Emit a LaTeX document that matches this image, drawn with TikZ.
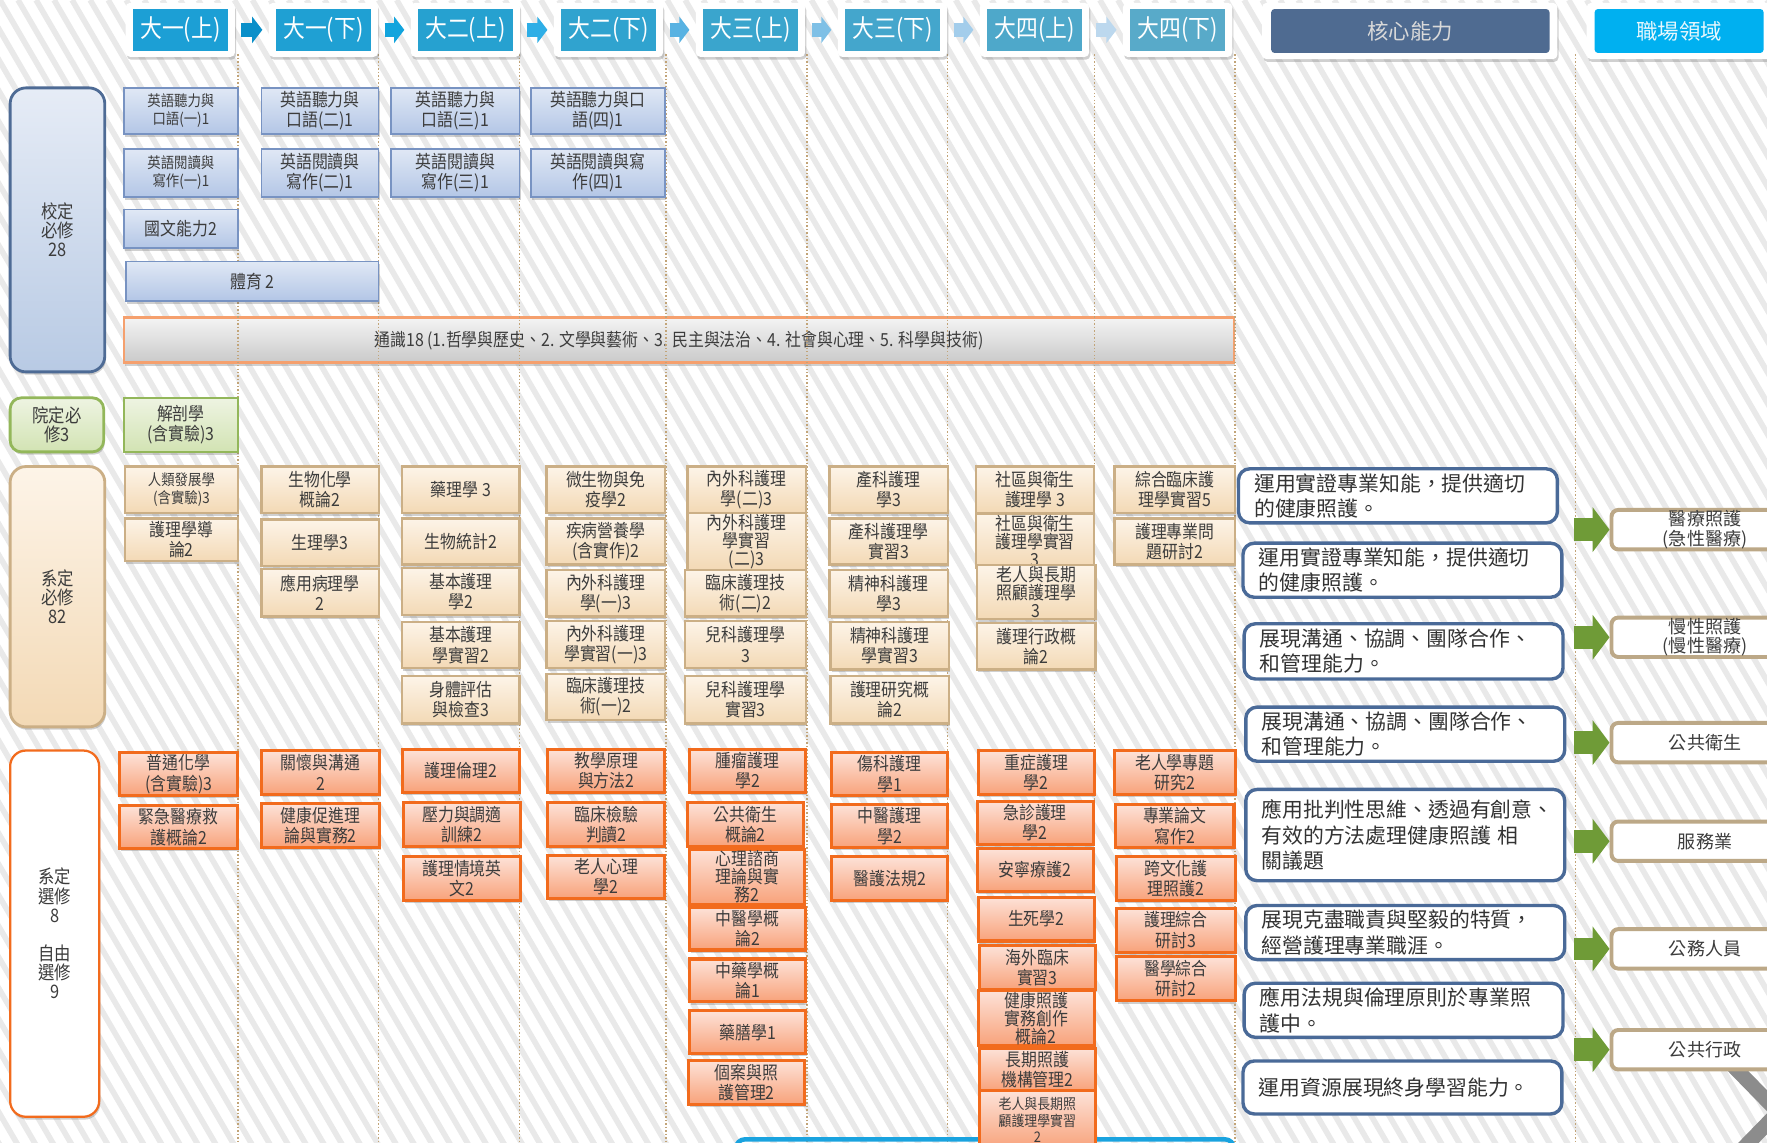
\documentclass[tikz,border=0pt]{standalone}
\usepackage{fontspec}
\setmainfont{Noto Sans CJK TC}[FakeStretch=0.88]
\newfontfamily\wfont{Noto Sans CJK TC}
\usetikzlibrary{shadows,arrows.meta,calc}
\definecolor{txt}{HTML}{3C3C3C}
\definecolor{bluT}{HTML}{E0E8F5}
\definecolor{bluB}{HTML}{B3C6E6}
\definecolor{bluD}{HTML}{7893C2}
\definecolor{lblT}{HTML}{E6ECF6}
\definecolor{lblB}{HTML}{B8CAE4}
\definecolor{lblD}{HTML}{4E6B95}
\definecolor{grnT}{HTML}{EEF4E2}
\definecolor{grnB}{HTML}{D2E3B3}
\definecolor{grnD}{HTML}{93B75A}
\definecolor{pchT}{HTML}{FDF4E8}
\definecolor{pchB}{HTML}{F3D9B5}
\definecolor{pchD}{HTML}{CBAF86}
\definecolor{orgT}{HTML}{FDE2D8}
\definecolor{orgB}{HTML}{F8A27A}
\definecolor{orgD}{HTML}{F26B1D}
\definecolor{gryT}{HTML}{F4F4F4}
\definecolor{gryB}{HTML}{C9C9C9}
\definecolor{gryD}{HTML}{F5A06E}
\definecolor{coreD}{HTML}{4A6A98}
\definecolor{carD}{HTML}{BCA887}
\definecolor{arrG}{HTML}{6F9B37}
\definecolor{dotC}{HTML}{C2A478}
\definecolor{stripeC}{HTML}{E9E9E9}
\definecolor{chevC}{HTML}{8C8C8C}
\definecolor{barC}{HTML}{1AA3DF}
\definecolor{hA}{HTML}{1C9FD5}
\definecolor{hB}{HTML}{1FA0D3}
\definecolor{hC}{HTML}{26A1D0}
\definecolor{hD}{HTML}{30A3CF}
\definecolor{hE}{HTML}{3AA5CD}
\definecolor{hF}{HTML}{44A6CC}
\definecolor{hG}{HTML}{4EA8CA}
\definecolor{hH}{HTML}{58AAC9}
\definecolor{aA}{HTML}{0A8FC9}
\definecolor{aB}{HTML}{12A4DD}
\definecolor{aC}{HTML}{2EAEE6}
\definecolor{aD}{HTML}{58B2E2}
\definecolor{aE}{HTML}{7FC0E6}
\definecolor{aF}{HTML}{A3CDEB}
\definecolor{aG}{HTML}{BCD8EE}
\definecolor{coreH}{HTML}{4F6B91}
\definecolor{carH}{HTML}{00B0F0}
\newcommand{\fs}[2]{\fontsize{#1}{#2}\selectfont}
\newcommand{\crs}[7]{\node[#2, minimum width={(#5)-(#3)}, minimum height={(#6)-(#4)}] (#1) at ({((#3)+(#5))/2},{((#4)+(#6))/2}) {#7};}
\newcommand{\hdr}[4]{\node[hdrout] (#1o) at (#2,26.5) {};\node[hdrin, fill=#3] (#1) at (#2,26.5) {#4};}
\newcommand{\car}[3]{\node[carbox] (#1) at (1513,#2) {#3};}
\newcommand{\core}[4]{\node[corebox, minimum height=#3] (#1) at #2 {#4};}
\tikzset{
 csh/.style={drop shadow={shadow xshift=1pt,shadow yshift=-2.5pt,opacity=0.3,fill=black!60}},
 hdrout/.style={fill=white, rounded corners=4pt, minimum width=97pt, minimum height=48pt, inner sep=0pt, csh},
 hdrin/.style={minimum width=84pt, minimum height=37pt, inner sep=0pt, text=white, font=\fs{22}{24}},
 harr/.style={line width=12pt, -{Triangle[width=23pt,length=9pt]}, shorten <=5.5pt, shorten >=5.5pt},
 lcat/.style={rounded corners=14pt, line width=2.5pt, align=center, text=txt, font=\fs{16.5}{17}, inner sep=0pt, csh},
 crsb/.style={draw=bluD, line width=1.5pt, top color=bluT, bottom color=bluB, align=center, text=txt, inner sep=1pt, font=\fs{16}{18}, csh},
 crsg/.style={draw=grnD, line width=2pt, top color=grnT, bottom color=grnB, align=center, text=txt, inner sep=1pt, font=\fs{16}{18}, csh},
 crsp/.style={draw=pchD, line width=2pt, top color=pchT, bottom color=pchB, align=center, text=txt, inner sep=1pt, font=\fs{16}{18}, csh},
 crso/.style={draw=orgD, line width=2.7pt, top color=orgT, bottom color=orgB, align=center, text=txt, inner sep=1pt, font=\fs{16}{18}, csh},
 sm/.style={font=\fs{13.5}{16}},
 tri/.style={font=\fs{16}{16}},
 corebox/.style={fill=white, draw=coreD, line width=3pt, rounded corners=10pt, text width=255pt, inner xsep=14pt, inner ysep=0pt, align=left, font=\wfont\fs{18.5}{22.5}, text=black!80},
 carbox/.style={fill=white, draw=carD, line width=3.5pt, rounded corners=6pt, minimum width=166pt, minimum height=35pt, inner sep=0pt, align=center, font=\wfont\fs{16}{17}, text=txt},
 garr/.style={line width=20pt, draw=arrG, -{Triangle[width=39pt,length=15pt]}}
}
\begin{document}
\begin{tikzpicture}[x=1pt,y=-1pt]
\useasboundingbox (0,0) rectangle (1568,1014);
\clip (0,0) rectangle (1568,1014);
\fill[white] (0,0) rectangle (1568,1014);
\foreach \i in {-624,-608,...,1570} \draw[line width=5pt, stripeC] (\i,0) -- ++(600,1030);

% general education bar
\crs{ge}{draw=gryD, line width=2.5pt, top color=gryT, bottom color=gryB, text=txt, inner sep=0pt, font=\fs{16}{18}, csh}{110}{282}{1095}{322}{通識18 (1.哲學與歷史、2. 文學與藝術、3. 民主與法治、4. 社會與心理、5. 科學與技術)}

% dotted column lines
\foreach \x in {211,336,461,591,716,841,971,1096,1398} \draw[dotC, line width=1.3pt, dash pattern=on 1.3pt off 1.8pt] (\x,48) -- (\x,1014);

% cyan bar and chevron at bottom
\draw[line width=4pt, barC, rounded corners=8pt] (653,1011) rectangle (1095,1070);
\draw[line width=13pt, chevC] (1538,946) -- (1578,987) -- (1538,1028);

% headers
\hdr{hA}{160}{hA}{大一(上)}
\hdr{hB}{287}{hB}{大一(下)}
\hdr{hC}{413}{hC}{大二(上)}
\hdr{hD}{540}{hD}{大二(下)}
\hdr{hE}{666}{hE}{大三(上)}
\hdr{hF}{792}{hF}{大三(下)}
\hdr{hG}{918}{hG}{大四(上)}
\hdr{hH}{1045}{hH}{大四(下)}
\draw[harr, aA] (hAo.east) -- (hBo.west);
\draw[harr, aB] (hBo.east) -- (hCo.west);
\draw[harr, aC] (hCo.east) -- (hDo.west);
\draw[harr, aD] (hDo.east) -- (hEo.west);
\draw[harr, aE] (hEo.east) -- (hFo.west);
\draw[harr, aF] (hFo.east) -- (hGo.west);
\draw[harr, aG] (hGo.east) -- (hHo.west);
\node[hdrout, minimum width=262pt, minimum height=50pt] (coreo) at (1251,27.5) {};
\node[minimum width=247pt, minimum height=39pt, inner sep=0pt, fill=coreH, rounded corners=3pt, text=black!15, font=\wfont\fs{19}{21}] (coreh) at (1251.5,27.5) {核心能力};
\node[hdrout, minimum width=170pt, minimum height=50pt] (caro) at (1493,27.5) {};
\node[minimum width=150pt, minimum height=39pt, inner sep=0pt, fill=carH, rounded corners=3pt, text=white!90!cyan, font=\wfont\fs{19}{21}] (carh) at (1490,27.5) {職場領域};

% left categories
\crs{L1}{lcat, top color=lblT, bottom color=lblB, draw=lblD}{9}{78}{93}{330}{校定\\必修\\28}
\crs{L2}{lcat, rounded corners=10pt, top color=grnT, bottom color=grnB, draw=grnD}{9}{353}{92}{401}{院定必\\修3}
\crs{L3}{lcat, top color=pchT, bottom color=pchB, draw=pchD}{9}{414}{93}{645}{系定\\必修\\82}
\crs{L4}{lcat, fill=white, draw=orgD, line width=2pt}{9}{666}{88}{991}{系定\\選修\\8\\[17pt]自由\\選修\\9}

% school required (blue)
\crs{b11}{crsb, sm}{110}{78}{211}{119}{英語聽力與\\口語(一)1}
\crs{b12}{crsb}{232}{78}{336}{119}{英語聽力與\\口語(二)1}
\crs{b13}{crsb}{347}{78}{461}{119}{英語聽力與\\口語(三)1}
\crs{b14}{crsb}{471}{78}{590}{119}{英語聽力與口\\語(四)1}
\crs{b21}{crsb, sm}{110}{132}{211}{175}{英語閱讀與\\寫作(一)1}
\crs{b22}{crsb}{232}{132}{336}{175}{英語閱讀與\\寫作(二)1}
\crs{b23}{crsb}{347}{132}{461}{175}{英語閱讀與\\寫作(三)1}
\crs{b24}{crsb}{471}{132}{590}{175}{英語閱讀與寫\\作(四)1}
\crs{b3}{crsb}{110}{186}{211}{220}{國文能力2}
\crs{b4}{crsb}{112}{232}{336}{267}{體育 2}
\crs{g1}{crsg}{110}{353}{211}{401}{解剖學\\(含實驗)3}

% department required (peach)
\crs{p11}{crsp, sm}{111}{414}{211}{455}{人類發展學\\(含實驗)3}
\crs{p12}{crsp}{111}{460}{211}{498}{護理學導\\論2}
\crs{p21}{crsp}{232}{414}{336}{455}{生物化學\\概論2}
\crs{p22}{crsp}{232}{461}{336}{502}{生理學3}
\crs{p23}{crsp}{232}{505}{336}{547}{應用病理學\\2}
\crs{p31}{crsp}{357}{414}{461}{455}{藥理學 3}
\crs{p32}{crsp}{357}{460}{461}{501}{生物統計2}
\crs{p33}{crsp}{357}{504}{461}{546}{基本護理\\學2}
\crs{p34}{crsp}{357}{552}{461}{593}{基本護理\\學實習2}
\crs{p35}{crsp}{357}{600}{461}{642}{身體評估\\與檢查3}
\crs{p41}{crsp}{485}{414}{590}{455}{微生物與免\\疫學2}
\crs{p42}{crsp}{485}{460}{590}{501}{疾病營養學\\(含實作)2}
\crs{p43}{crsp}{485}{506}{590}{547}{內外科護理\\學(一)3}
\crs{p44}{crsp}{485}{551}{590}{593}{內外科護理\\學實習(一)3}
\crs{p45}{crsp}{485}{598}{590}{639}{臨床護理技\\術(一)2}
\crs{p51}{crsp}{610}{414}{715}{455}{內外科護理\\學(二)3}
\crs{p52}{crsp, tri}{610}{460}{715}{501}{內外科護理\\學實習\\(二)3}
\crs{p53}{crsp}{608}{506}{715}{547}{臨床護理技\\術(二)2}
\crs{p54}{crsp}{608}{551}{715}{593}{兒科護理學\\3}
\crs{p55}{crsp}{608}{600}{715}{642}{兒科護理學\\實習3}
\crs{p61}{crsp}{736}{414}{841}{455}{產科護理\\學3}
\crs{p62}{crsp}{736}{460}{841}{501}{產科護理學\\實習3}
\crs{p63}{crsp}{736}{506}{841}{547}{精神科護理\\學3}
\crs{p64}{crsp}{737}{552}{842}{594}{精神科護理\\學實習3}
\crs{p65}{crsp}{737}{600}{842}{642}{護理研究概\\論2}
\crs{p71}{crsp}{866}{414}{971}{455}{社區與衛生\\護理學 3}
\crs{p72}{crsp, tri}{866}{460}{971}{500}{社區與衛生\\護理學實習\\3}
\crs{p73}{crsp, tri}{867}{505}{972}{546}{老人與長期\\照顧護理學\\3}
\crs{p74}{crsp}{867}{553}{972}{594}{護理行政概\\論2}
\crs{p81}{crsp}{989}{414}{1096}{455}{綜合臨床護\\理學實習5}
\crs{p82}{crsp}{989}{460}{1096}{501}{護理專業問\\題研討2}

% electives (orange)
\crs{o11}{crso}{106}{668}{211}{706}{普通化學\\(含實驗)3}
\crs{o12}{crso}{106}{715}{211}{753}{緊急醫療救\\護概論2}
\crs{o21}{crso}{232}{666}{337}{705}{關懷與溝通\\2}
\crs{o22}{crso}{232}{713}{337}{752}{健康促進理\\論與實務2}
\crs{o31}{crso}{357}{665}{461}{703}{護理倫理2}
\crs{o32}{crso}{358}{712}{462}{751}{壓力與調適\\訓練2}
\crs{o33}{crso}{358}{760}{462}{799}{護理情境英\\文2}
\crs{o41}{crso}{486}{665}{590}{703}{教學原理\\與方法2}
\crs{o42}{crso}{486}{712}{590}{751}{臨床檢驗\\判讀2}
\crs{o43}{crso}{486}{759}{590}{797}{老人心理\\學2}
\crs{o51}{crso}{612}{665}{715}{703}{腫瘤護理\\學2}
\crs{o52}{crso}{610}{712}{713}{751}{公共衛生\\概論2}
\crs{o53}{crso, tri}{612}{759}{714}{797}{心理諮商\\理論與實\\務2}
\crs{o54}{crso}{612}{805}{715}{843}{中醫學概\\論2}
\crs{o55}{crso}{612}{851}{715}{889}{中藥學概\\論1}
\crs{o56}{crso}{612}{897}{715}{935}{藥膳學1}
\crs{o57}{crso}{611}{941}{714}{980}{個案與照\\護管理2}
\crs{o61}{crso}{738}{668}{841}{706}{傷科護理\\學1}
\crs{o62}{crso}{738}{714}{841}{752}{中醫護理\\學2}
\crs{o63}{crso}{738}{760}{841}{799}{醫護法規2}
\crs{o71}{crso}{868}{666}{971}{705}{重症護理\\學2}
\crs{o72}{crso}{867}{711}{970}{749}{急診護理\\學2}
\crs{o73}{crso}{867}{753}{970}{791}{安寧療護2}
\crs{o74}{crso}{868}{796}{971}{835}{生死學2}
\crs{o75}{crso}{869}{839}{972}{878}{海外臨床\\實習3}
\crs{o76}{crso, tri}{868}{884}{971}{923}{健康照護\\實務創作\\概論2}
\crs{o77}{crso}{869}{930}{972}{968}{長期照護\\機構管理2}
\crs{o78}{crso, font=\fs{13}{14.5}}{869}{968}{972}{1020}{老人與長期照\\顧護理學實習\\2}
\crs{o81}{crso}{989}{666}{1096}{705}{老人學專題\\研究2}
\crs{o82}{crso}{990}{714}{1095}{752}{專業論文\\寫作2}
\crs{o83}{crso}{991}{760}{1096}{799}{跨文化護\\理照護2}
\crs{o84}{crso}{991}{806}{1096}{845}{護理綜合\\研討3}
\crs{o85}{crso}{991}{849}{1096}{888}{醫學綜合\\研討2}

% core abilities
\core{k1}{(1240.5,440)}{48pt}{運用實證專業知能，提供適切\\的健康照護。}
\core{k2}{(1244.5,506)}{48pt}{運用實證專業知能，提供適切\\的健康照護。}
\core{k3}{(1245.5,578)}{49pt}{展現溝通、協調、團隊合作、\\和管理能力。}
\core{k4}{(1247,651.5)}{48pt}{展現溝通、協調、團隊合作、\\和管理能力。}
\core{k5}{(1247,741)}{81pt}{應用批判性思維、透過有創意、\\有效的方法處理健康照護 相\\關議題}
\core{k6}{(1247,827.5)}{48pt}{展現克盡職責與堅毅的特質，\\經營護理專業職涯。}
\core{k7}{(1245.5,896.5)}{48pt}{應用法規與倫理原則於專業照\\護中。}
\core{k8}{(1244.5,965)}{47pt}{運用資源展現終身學習能力。}

% career fields
\car{c1}{470}{醫療照護\\(急性醫療)}
\car{c2}{565.5}{慢性照護\\(慢性醫療)}
\car{c3}{659}{公共衛生}
\car{c4}{746.5}{服務業}
\car{c5}{842}{公務人員}
\car{c6}{931.5}{公共行政}
\coordinate (ga1) at (1397,470);
\coordinate (ga2) at (1397,565.5);
\coordinate (ga3) at (1397,659);
\coordinate (ga4) at (1397,746.5);
\coordinate (ga5) at (1397,842);
\coordinate (ga6) at (1397,931.5);
\draw[garr] (ga1) -- (c1.west);
\draw[garr] (ga2) -- (c2.west);
\draw[garr] (ga3) -- (c3.west);
\draw[garr] (ga4) -- (c4.west);
\draw[garr] (ga5) -- (c5.west);
\draw[garr] (ga6) -- (c6.west);
\end{tikzpicture}
\end{document}
